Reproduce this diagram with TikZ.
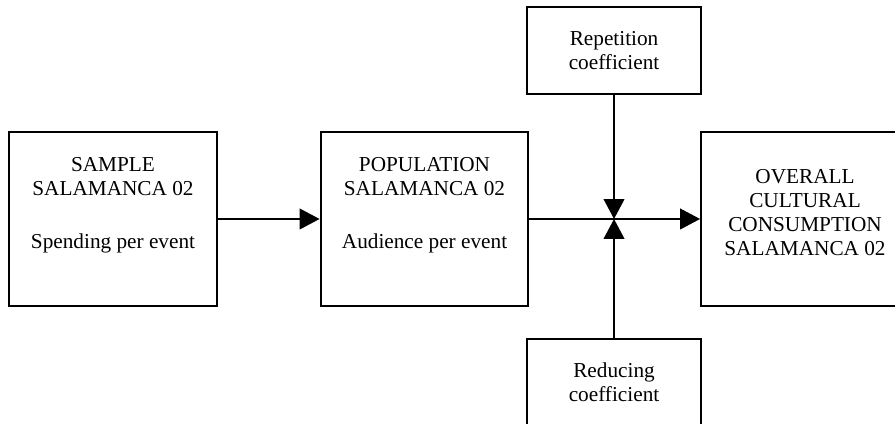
\documentclass[tikz,border=0pt]{standalone}
\usepackage{fontspec}
\setmainfont{Liberation Serif}
\usetikzlibrary{arrows.meta}
\usetikzlibrary{positioning}
\tikzstyle{stage} = [rectangle, minimum width=5.5cm, minimum height=4.58cm, text centered, align=center, draw=black, line width=1.5pt, font=\fontsize{16}{18}\selectfont]
\tikzstyle{coef} = [rectangle, minimum width=4.6cm, minimum height=2.28cm, text centered, align=center, draw=black, line width=1.5pt, font=\fontsize{16}{18}\selectfont]
\tikzstyle{arrow} = [line width=1.5pt, -{Triangle[length=15pt, width=15.5pt]}]

\begin{document}
\begin{tikzpicture}[node distance=2cm]
 \useasboundingbox (-2.990,-5.398) rectangle (20.690,5.794);
 \node (sample) [stage] {SAMPLE\\SALAMANCA 02\\[22pt]Spending per event\\[6pt]\mbox{}};
 \node (population) [stage, right of=sample, node distance=8.242cm] {POPULATION\\SALAMANCA 02\\[22pt]Audience per event\\[6pt]\mbox{}};
 \node (junction) [coordinate, right of=population, node distance=5.014cm] {};
 \node (overall) [stage, right of=junction, node distance=5.053cm] {OVERALL\\CULTURAL\\CONSUMPTION\\SALAMANCA 02\\[-8pt]\mbox{}};
 \node (repetition) [coef, above of=junction, node distance=4.458cm] {Repetition\\coefficient};
 \node (reducing) [coef, below of=junction, node distance=4.326cm] {Reducing\\coefficient};

 \draw [arrow] (sample) -- (population);
 \draw [arrow] (population) -- (overall);
 \draw [arrow] (repetition) -- (junction);
 \draw [arrow] (reducing) -- (junction);
\end{tikzpicture}
\end{document}
